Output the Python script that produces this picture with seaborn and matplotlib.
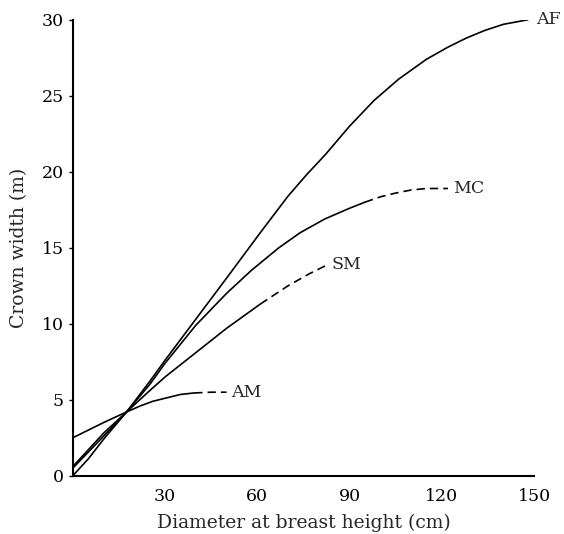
import pandas as pd
import seaborn as sns
import matplotlib.pyplot as plt

# values (dbh in cm, crown width in m)
af_x = [0, 5, 10, 17.5, 25, 30, 40, 50, 61, 70, 76, 82, 90, 98, 106, 115, 122, 128, 134, 140, 148]
af_y = [0, 1.1, 2.4, 4.2, 6.2, 7.6, 10.3, 13.0, 16.0, 18.4, 19.8, 21.1, 23.0, 24.7, 26.1, 27.4, 28.2, 28.8, 29.3, 29.7, 30.0]

mc_x = [0, 10, 17.5, 25, 30, 40, 50, 58, 67, 74, 82, 90, 95]
mc_y = [0.5, 2.6, 4.2, 6.0, 7.4, 9.9, 12.0, 13.5, 15.0, 16.0, 16.9, 17.6, 18.0]
mc_dash_x = [95, 100, 105, 110, 115, 122]
mc_dash_y = [18.0, 18.35, 18.6, 18.8, 18.9, 18.9]

sm_x = [0, 10, 17.5, 25, 30, 40, 50, 61]
sm_y = [0.6, 2.8, 4.2, 5.6, 6.5, 8.1, 9.7, 11.3]
sm_dash_x = [61, 70, 77, 82]
sm_dash_y = [11.3, 12.5, 13.3, 13.8]

am_x = [0, 5, 10, 17.5, 22, 26, 30, 35, 39.5]
am_y = [2.5, 3.0, 3.5, 4.2, 4.6, 4.9, 5.1, 5.35, 5.45]
am_dash_x = [39.5, 45, 50]
am_dash_y = [5.45, 5.5, 5.5]

labels = ["AF", "MC", "SM", "AM"]
label_x = [150.5, 123.5, 84, 51.5]
label_y = [30.0, 18.9, 13.9, 5.5]

sns.set_style("ticks")
plt.rcParams['font.family'] = ['DejaVu Serif']

fig = plt.figure(figsize=(5.64, 5.34), dpi=100)
ax = fig.add_axes([0.129, 0.109, 0.818, 0.854])

solid = [(af_x, af_y), (mc_x, mc_y), (sm_x, sm_y), (am_x, am_y)]
dashed = [(mc_dash_x, mc_dash_y), (sm_dash_x, sm_dash_y), (am_dash_x, am_dash_y)]

for xs, ys in solid:
    sns.lineplot(x=xs, y=ys, ax=ax, color="black", linewidth=1.2, sort=False)
for xs, ys in dashed:
    sns.lineplot(x=xs, y=ys, ax=ax, color="black", linewidth=1.2, sort=False,
                 linestyle=(0, (5, 3)))

for lab, lx, ly in zip(labels, label_x, label_y):
    ax.text(lx, ly, lab, fontsize=12.5, va="center", ha="left")

ax.set_xlim(0, 150)
ax.set_ylim(0, 30)
ax.set_xticks([0, 30, 60, 90, 120, 150])
ax.set_xticklabels(["", "30", "60", "90", "120", "150"])
ax.set_yticks([0, 5, 10, 15, 20, 25, 30])
ax.tick_params(axis="both", labelsize=12.5, colors="black", length=3, width=1)
ax.tick_params(axis="x", length=0, pad=9)
ax.set_xlabel("Diameter at breast height (cm)", fontsize=13.5, labelpad=6)
ax.set_ylabel("Crown width (m)", fontsize=13.5, labelpad=10)
for s in ["left", "bottom"]:
    ax.spines[s].set_linewidth(1.5)
    ax.spines[s].set_color("black")
sns.despine(ax=ax)

fig.savefig("out.png", dpi=100)
